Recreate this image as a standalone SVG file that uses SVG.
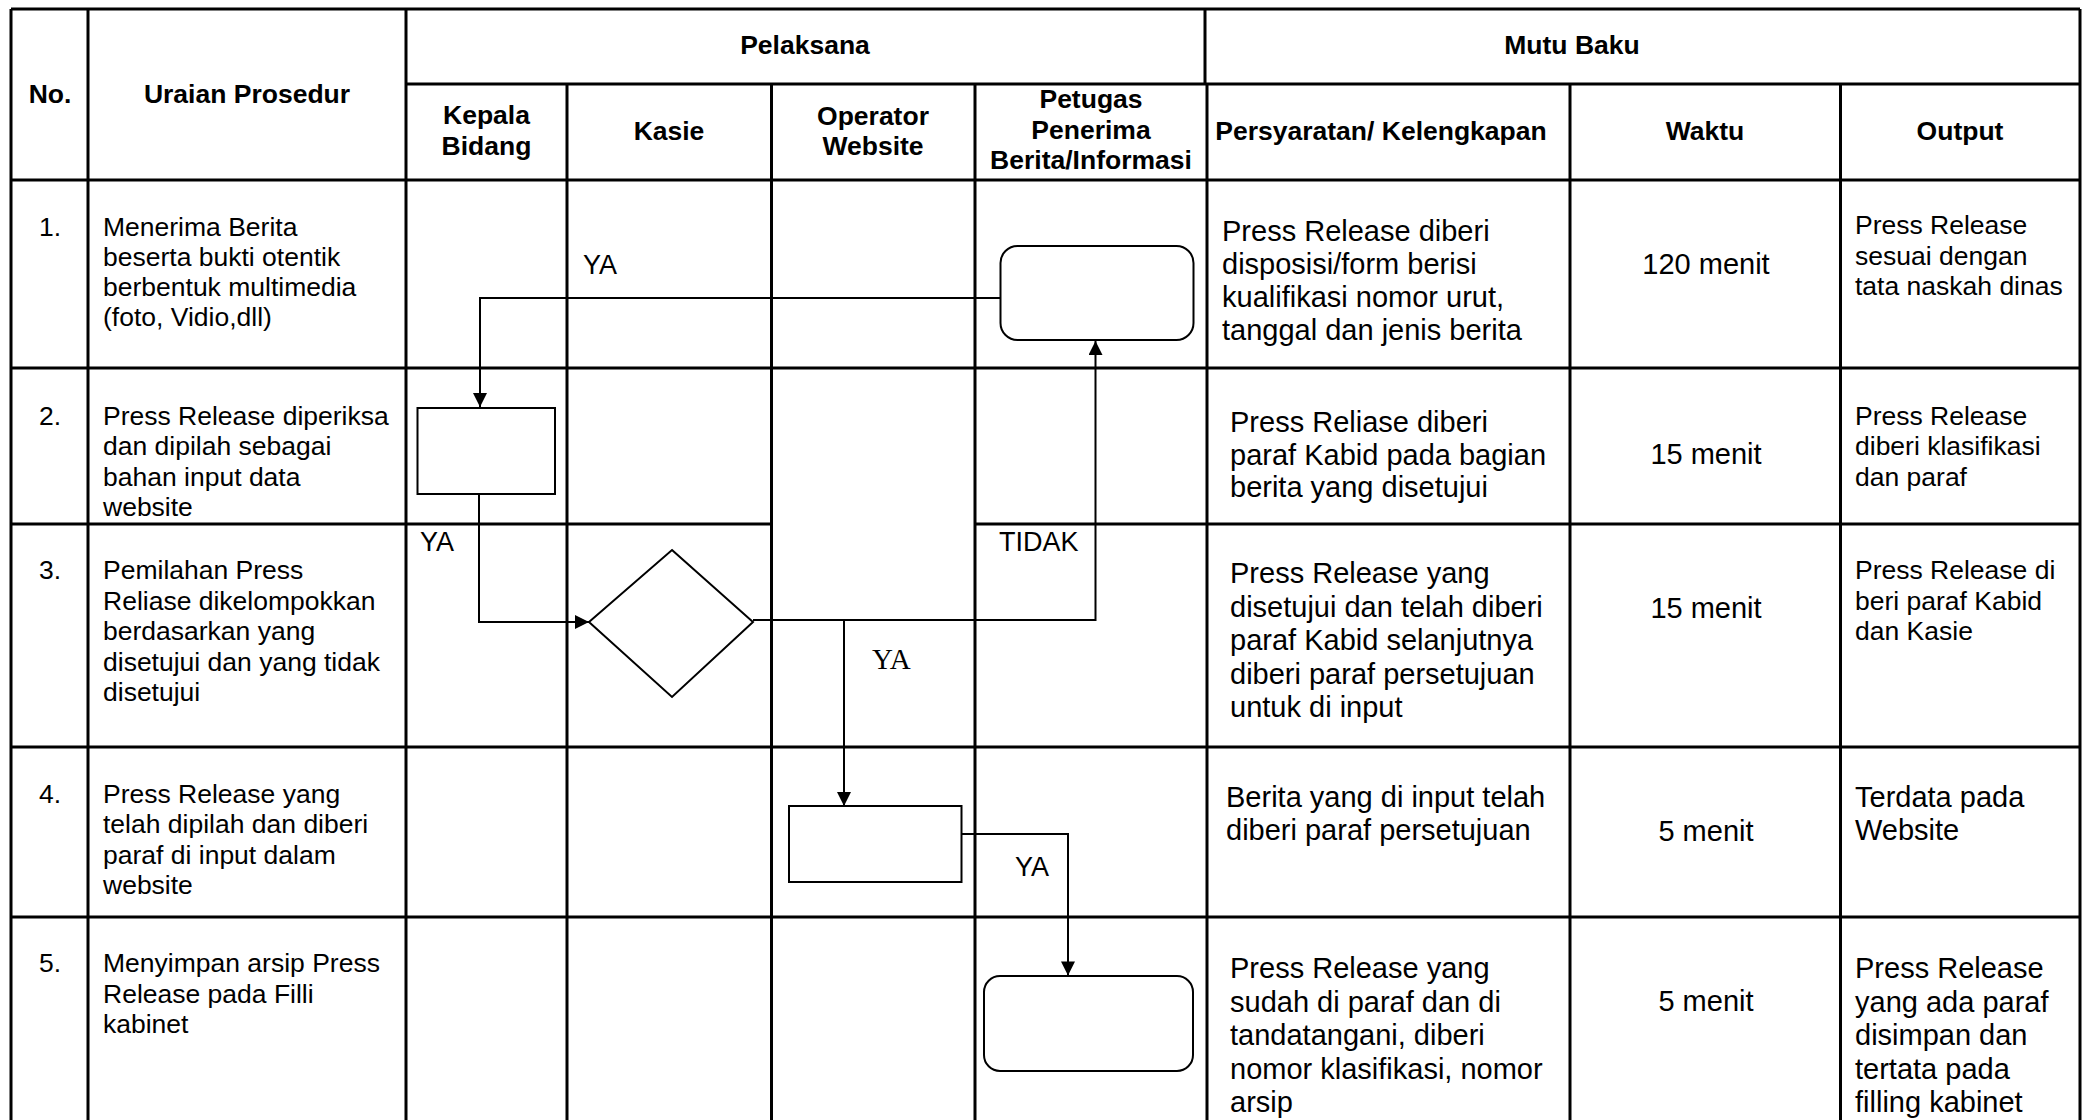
<svg xmlns="http://www.w3.org/2000/svg" width="2082" height="1120" viewBox="0 0 2082 1120">
<style>
.grid{fill:none;stroke:#000;stroke-width:3}
.shape{fill:#fff;stroke:#000;stroke-width:2}
.conn{fill:none;stroke:#000;stroke-width:2}
text{font-family:"Liberation Sans",Arial,sans-serif;fill:#000}
.h{font-size:26.5px;font-weight:bold;text-anchor:middle}
.t{font-size:26.5px}
.t2{font-size:29px}
.c{text-anchor:middle}
.lbl{font-size:27px}
.serif{font-family:"Liberation Serif","Times New Roman",serif;font-size:29px}
</style>
<defs>
<marker id="arr" viewBox="0 0 10 10" refX="10" refY="5" markerUnits="userSpaceOnUse" markerWidth="15" markerHeight="14" orient="auto">
<path d="M0,0 L10,5 L0,10 z" fill="#000"/>
</marker>
</defs>
<rect x="0" y="0" width="2082" height="1120" fill="#fff"/>
<g id="table">
<path class="grid" d="M11,9 H2080 M406,84 H2080 M11,180 H2080 M11,368 H2080 M11,524 H771.5 M975,524 H2080 M11,747 H2080 M11,917 H2080
M11,9 V1120 M88,9 V1120 M406,9 V1120 M567,84 V1120 M771.5,84 V1120 M975,84 V1120 M1205,9 V84 M1207,84 V1120 M1570,84 V1120 M1840.5,84 V1120 M2080,9 V1120"/>
<g id="header">
<text class="h" x="50" y="103">No.</text>
<text class="h" x="247" y="103">Uraian Prosedur</text>
<text class="h" x="805" y="54">Pelaksana</text>
<text class="h" x="1572" y="54">Mutu Baku</text>
<text class="h" x="486.5" y="124">Kepala</text>
<text class="h" x="486.5" y="155">Bidang</text>
<text class="h" x="669" y="140">Kasie</text>
<text class="h" x="873" y="125">Operator</text>
<text class="h" x="873" y="155">Website</text>
<text class="h" x="1091" y="108">Petugas</text>
<text class="h" x="1091" y="139">Penerima</text>
<text class="h" x="1091" y="169">Berita/Informasi</text>
<text class="h" x="1381" y="140">Persyaratan/ Kelengkapan</text>
<text class="h" x="1705" y="140">Waktu</text>
<text class="h" x="1960" y="140">Output</text>
</g>
<g id="row1">
<text class="t c" x="50" y="236">1.</text>
<text class="t" x="103" y="236">Menerima Berita</text>
<text class="t" x="103" y="266">beserta bukti otentik</text>
<text class="t" x="103" y="296">berbentuk multimedia</text>
<text class="t" x="103" y="326">(foto, Vidio,dll)</text>
<text class="t2" x="1222" y="241">Press Release diberi</text>
<text class="t2" x="1222" y="274">disposisi/form berisi</text>
<text class="t2" x="1222" y="307">kualifikasi nomor urut,</text>
<text class="t2" x="1222" y="340">tanggal dan jenis berita</text>
<text class="t2 c" x="1706" y="274">120 menit</text>
<text class="t" x="1855" y="234">Press Release</text>
<text class="t" x="1855" y="264.5">sesuai dengan</text>
<text class="t" x="1855" y="295">tata naskah dinas</text>
</g>
<g id="row2">
<text class="t c" x="50" y="425">2.</text>
<text class="t" x="103" y="425">Press Release diperiksa</text>
<text class="t" x="103" y="455">dan dipilah sebagai</text>
<text class="t" x="103" y="485.5">bahan input data</text>
<text class="t" x="103" y="516">website</text>
<text class="t2" x="1230" y="432">Press Reliase diberi</text>
<text class="t2" x="1230" y="464.5">paraf Kabid pada bagian</text>
<text class="t2" x="1230" y="497">berita yang disetujui</text>
<text class="t2 c" x="1706" y="464">15 menit</text>
<text class="t" x="1855" y="425">Press Release</text>
<text class="t" x="1855" y="455">diberi klasifikasi</text>
<text class="t" x="1855" y="485.5">dan paraf</text>
</g>
<g id="row3">
<text class="t c" x="50" y="579">3.</text>
<text class="t" x="103" y="579">Pemilahan Press</text>
<text class="t" x="103" y="609.5">Reliase dikelompokkan</text>
<text class="t" x="103" y="640">berdasarkan yang</text>
<text class="t" x="103" y="670.5">disetujui dan yang tidak</text>
<text class="t" x="103" y="701">disetujui</text>
<text class="t2" x="1230" y="583">Press Release yang</text>
<text class="t2" x="1230" y="616.5">disetujui dan telah diberi</text>
<text class="t2" x="1230" y="650">paraf Kabid selanjutnya</text>
<text class="t2" x="1230" y="683.5">diberi paraf persetujuan</text>
<text class="t2" x="1230" y="717">untuk di input</text>
<text class="t2 c" x="1706" y="618">15 menit</text>
<text class="t" x="1855" y="579">Press Release di</text>
<text class="t" x="1855" y="609.5">beri paraf Kabid</text>
<text class="t" x="1855" y="640">dan Kasie</text>
</g>
<g id="row4">
<text class="t c" x="50" y="803">4.</text>
<text class="t" x="103" y="803">Press Release yang</text>
<text class="t" x="103" y="833">telah dipilah dan diberi</text>
<text class="t" x="103" y="864">paraf di input dalam</text>
<text class="t" x="103" y="894">website</text>
<text class="t2" x="1226" y="807">Berita yang di input telah</text>
<text class="t2" x="1226" y="840">diberi paraf persetujuan</text>
<text class="t2 c" x="1706" y="841">5 menit</text>
<text class="t2" x="1855" y="807">Terdata pada</text>
<text class="t2" x="1855" y="840">Website</text>
</g>
<g id="row5">
<text class="t c" x="50" y="972">5.</text>
<text class="t" x="103" y="972">Menyimpan arsip Press</text>
<text class="t" x="103" y="1002.5">Release pada Filli</text>
<text class="t" x="103" y="1032.5">kabinet</text>
<text class="t2" x="1230" y="978">Press Release yang</text>
<text class="t2" x="1230" y="1011.5">sudah di paraf dan di</text>
<text class="t2" x="1230" y="1045">tandatangani, diberi</text>
<text class="t2" x="1230" y="1078.5">nomor klasifikasi, nomor</text>
<text class="t2" x="1230" y="1112">arsip</text>
<text class="t2 c" x="1706" y="1011">5 menit</text>
<text class="t2" x="1855" y="978">Press Release</text>
<text class="t2" x="1855" y="1011.5">yang ada paraf</text>
<text class="t2" x="1855" y="1045">disimpan dan</text>
<text class="t2" x="1855" y="1078.5">tertata pada</text>
<text class="t2" x="1855" y="1112">filling kabinet</text>
</g>
</g>
<g id="connectors">
<path class="conn" d="M1000,298 H480 V407" marker-end="url(#arr)"/>
<path class="conn" d="M479,494 V622 H589" marker-end="url(#arr)"/>
<path class="conn" d="M753,620 H1095.5 V341" marker-end="url(#arr)"/>
<path class="conn" d="M844,620 V806" marker-end="url(#arr)"/>
<path class="conn" d="M961.5,834 H1068 V975.5" marker-end="url(#arr)"/>
<text class="lbl" x="583" y="274">YA</text>
<text class="lbl" x="420" y="551">YA</text>
<text class="lbl" x="999" y="551">TIDAK</text>
<text class="serif" x="872" y="669">YA</text>
<text class="lbl" x="1015" y="876">YA</text>
</g>
<g id="node-terima">
<rect class="shape" x="1000.5" y="246" width="193" height="94" rx="17" ry="17"/>
</g>
<g id="node-periksa">
<rect class="shape" x="417.5" y="408" width="137.5" height="86"/>
</g>
<g id="node-pilah">
<polygon class="shape" points="672,550 753,622 672,697 589,622"/>
</g>
<g id="node-input">
<rect class="shape" x="789" y="806" width="172.5" height="76"/>
</g>
<g id="node-arsip">
<rect class="shape" x="984" y="976" width="209" height="95" rx="16" ry="16"/>
</g>
</svg>
